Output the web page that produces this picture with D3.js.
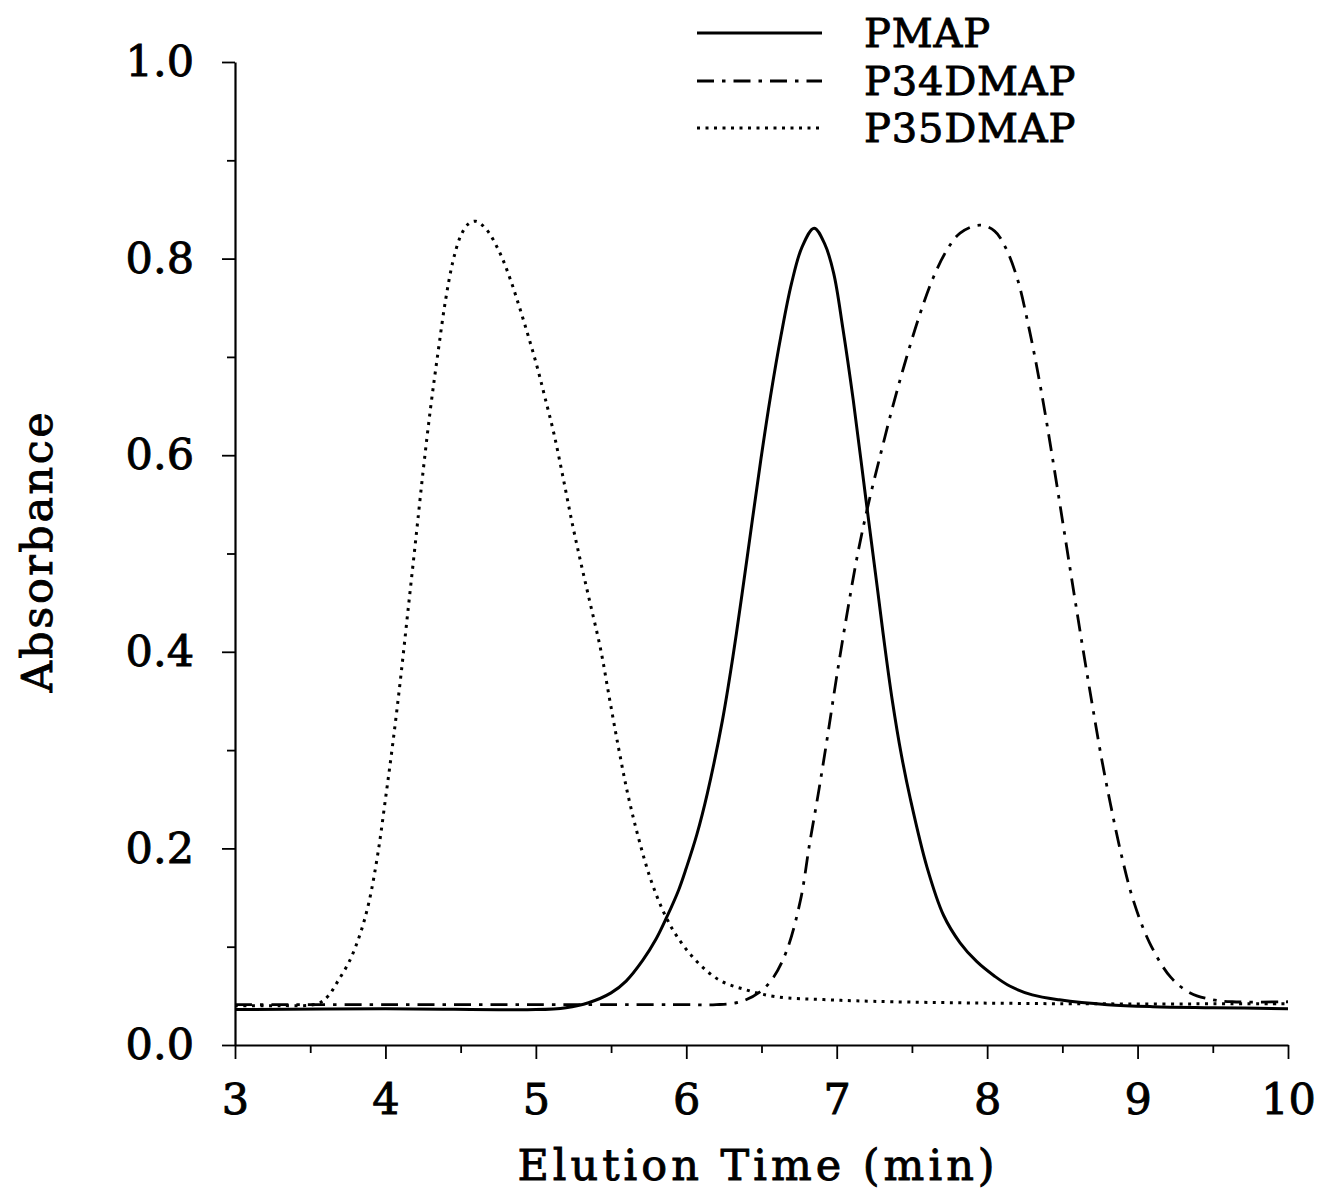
<!DOCTYPE html>
<html><head><meta charset="utf-8">
<script src="https://cdn.jsdelivr.net/npm/d3@7"></script>
<style>
html,body{margin:0;padding:0;background:#fff;}
svg{display:block;}
text{font-family:"DejaVu Serif",serif;fill:#000;stroke:#000;stroke-width:0.9px;}
</style></head>
<body>
<script>
// ---- data ----
const seriesNames = ["PMAP", "P34DMAP", "P35DMAP"];
const xTicks = [3,4,5,6,7,8,9,10];
const yTicks = [0.0,0.2,0.4,0.6,0.8,1.0];
const xLabel = "Elution Time (min)";
const yLabel = "Absorbance";

const pmapT = [3.0,4.0,5.0,5.2,5.35,5.5,5.6,5.71,5.8,5.87,5.95,6.0,6.07,6.14,6.24,6.31,6.37,6.44,6.5,6.56,6.63,6.7,6.77,6.85,6.92,6.98,7.04,7.11,7.19,7.27,7.32,7.37,7.43,7.49,7.6,7.71,7.82,7.93,8.05,8.15,8.3,8.48,8.8,9.1,9.5,10.0];
const pmapV = [0.036,0.037,0.036,0.038,0.043,0.053,0.065,0.086,0.108,0.130,0.158,0.180,0.214,0.256,0.330,0.395,0.458,0.535,0.600,0.660,0.722,0.775,0.812,0.831,0.815,0.785,0.730,0.656,0.560,0.465,0.405,0.350,0.295,0.250,0.181,0.132,0.104,0.085,0.070,0.060,0.051,0.046,0.041,0.039,0.038,0.037];

const p34T = [3.0,4.0,5.0,6.0,6.2,6.36,6.49,6.58,6.67,6.76,6.82,6.88,6.94,7.0,7.07,7.14,7.21,7.29,7.37,7.45,7.55,7.64,7.73,7.82,7.95,8.05,8.12,8.2,8.28,8.36,8.44,8.52,8.58,8.64,8.7,8.76,8.82,8.89,8.97,9.08,9.22,9.35,9.5,9.63,10.0];
const p34V = [0.041,0.041,0.041,0.041,0.041,0.044,0.054,0.069,0.097,0.148,0.205,0.258,0.315,0.375,0.440,0.500,0.550,0.600,0.648,0.692,0.742,0.780,0.808,0.826,0.834,0.828,0.812,0.780,0.728,0.665,0.592,0.515,0.457,0.400,0.345,0.292,0.245,0.195,0.148,0.104,0.069,0.053,0.046,0.044,0.044];

const p35T = [3.0,3.3,3.55,3.62,3.68,3.76,3.83,3.89,3.95,4.0,4.05,4.1,4.15,4.2,4.25,4.3,4.35,4.4,4.45,4.5,4.55,4.6,4.67,4.76,4.83,4.89,4.95,5.01,5.06,5.12,5.18,5.24,5.3,5.36,5.43,5.49,5.55,5.61,5.68,5.76,5.85,5.94,6.07,6.22,6.4,6.6,6.94,7.37,8.48,10.0];
const p35V = [0.040,0.040,0.042,0.050,0.064,0.085,0.112,0.145,0.195,0.250,0.308,0.372,0.442,0.512,0.583,0.648,0.705,0.758,0.798,0.823,0.835,0.838,0.830,0.806,0.779,0.751,0.721,0.689,0.659,0.622,0.578,0.532,0.490,0.450,0.403,0.352,0.302,0.256,0.212,0.170,0.135,0.110,0.085,0.066,0.056,0.049,0.046,0.044,0.042,0.042];

// ---- drawing ----
const W = 1320, H = 1193;
const svg = d3.select("body").append("svg").attr("width", W).attr("height", H);

const x = d3.scaleLinear().domain([3,10]).range([235,1288]);
const y = d3.scaleLinear().domain([0,1]).range([1045,62]);

const tickFont = 43, titleFont = 43, legendFont = 40;

// x axis
const gx = svg.append("g").attr("transform", `translate(0,${y(0)})`);
gx.call(d3.axisBottom(x).tickValues(xTicks).tickFormat(d3.format("d")).tickSize(14).tickSizeOuter(0).tickPadding(24));
const gxm = svg.append("g").attr("transform", `translate(0,${y(0)})`);
gxm.call(d3.axisBottom(x).tickValues(d3.range(3.5,10,1)).tickFormat("").tickSize(8).tickSizeOuter(0));
gxm.select(".domain").remove();

// y axis
const gy = svg.append("g").attr("transform", `translate(${x(3)},0)`);
gy.call(d3.axisLeft(y).tickValues(yTicks).tickFormat(d3.format(".1f")).tickSize(13).tickSizeOuter(0).tickPadding(28));
const gym = svg.append("g").attr("transform", `translate(${x(3)},0)`);
gym.call(d3.axisLeft(y).tickValues(d3.range(0.1,1,0.2)).tickFormat("").tickSize(8).tickSizeOuter(0));
gym.select(".domain").remove();

svg.selectAll(".domain").attr("stroke","#000").attr("stroke-width",2.2);
svg.selectAll(".tick line").attr("stroke","#000").attr("stroke-width",1.8);
svg.selectAll(".tick text").style("font-family","'DejaVu Serif',serif").style("font-size",tickFont+"px")
  .attr("fill","#000").style("stroke","#000").style("stroke-width","0.9px");

// axis titles
svg.append("text").attr("x", 758).attr("y", 1180).attr("text-anchor","middle")
  .style("font-size", titleFont+"px").style("letter-spacing","4px").text(xLabel);
svg.append("text").attr("transform","translate(52,551) rotate(-90)").attr("text-anchor","middle")
  .style("font-size", titleFont+"px").style("letter-spacing","2.5px").text(yLabel);

// series
const styles = [
  {dash:null, width:3},
  {dash:"17,8,3.5,8", width:2.8},
  {dash:"3,5.5", width:3}
];
const series = [
  {name: seriesNames[0], t: pmapT, v: pmapV},
  {name: seriesNames[1], t: p34T, v: p34V},
  {name: seriesNames[2], t: p35T, v: p35V}
];
const line = d3.line().x(d=>x(d[0])).y(d=>y(d[1])).curve(d3.curveCatmullRom.alpha(0.5));
series.forEach((s,i)=>{
  const pts = s.t.map((t,j)=>[t,s.v[j]]);
  svg.append("path").datum(pts).attr("d", line)
    .attr("fill","none").attr("stroke","#000").attr("stroke-width",styles[i].width)
    .attr("stroke-dasharray", styles[i].dash);
});

// legend
const legY = [33, 81, 128];
series.forEach((s,i)=>{
  svg.append("line").attr("x1",697).attr("x2",822).attr("y1",legY[i]).attr("y2",legY[i])
    .attr("stroke","#000").attr("stroke-width",styles[i].width).attr("stroke-dasharray",styles[i].dash);
  svg.append("text").attr("x",864).attr("y",legY[i]+14).style("font-size",legendFont+"px")
    .style("letter-spacing","0.8px").text(s.name);
});
</script>
</body></html>
